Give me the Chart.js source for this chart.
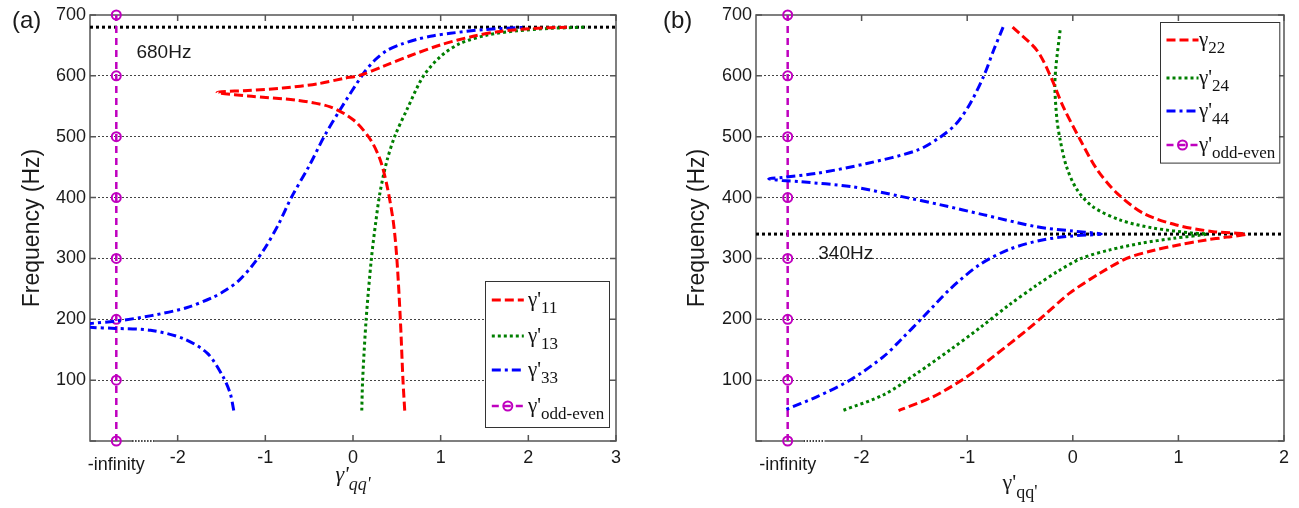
<!DOCTYPE html>
<html>
<head>
<meta charset="utf-8">
<script src="https://cdn.jsdelivr.net/npm/chart.js@4.4.0/dist/chart.umd.min.js"></script>
<style>
  html, body { margin: 0; padding: 0; background: #fff; }
  #wrap { position: relative; width: 1299px; height: 508px; }
  .panel { position: absolute; top: 0; height: 508px; }
  #boxA { left: 0; width: 640px; }
  #boxB { left: 650px; width: 649px; }
</style>
</head>
<body>
<div id="wrap">
  <div class="panel" id="boxA"><canvas id="chartA" width="640" height="508"></canvas></div>
  <div class="panel" id="boxB"><canvas id="chartB" width="649" height="508"></canvas></div>
</div>
<script>
// x position used for gamma' = -infinity
const infPos = -2.7;
const freqSteps = [0, 100, 200, 300, 400, 500, 600, 700];
const xTicksA = [-2, -1, 0, 1, 2, 3];
const xTicksB = [-2, -1, 0, 1, 2];
const refFreqA = 680;
const refFreqB = 340;

// panel (a): gamma'11 (lower branch from 50 Hz up to the tip, then upper branch)
const g11X = [0.59, 0.57, 0.54, 0.50, 0.46, 0.39, 0.31, 0.20, 0.01, -0.26, -0.64, -1.20, -1.55,
              -1.20, -0.80, -0.40, -0.10, 0.08, 0.35, 0.65, 1.00, 1.37, 1.68, 2.06, 2.44];
const g11Y = [50, 100, 200, 300, 360, 418, 462, 495, 527, 549, 560, 567, 573,
              576, 580, 587, 596, 601, 616, 633, 651, 665, 673, 678, 680];
// panel (a): gamma'13
const g13X = [0.10, 0.11, 0.15, 0.21, 0.26, 0.31, 0.39, 0.48, 0.62, 0.80, 1.00, 1.22, 1.53, 1.87, 2.25, 2.67];
const g13Y = [50, 100, 200, 300, 360, 410, 462, 502, 546, 599, 632, 653, 667, 674, 678, 680];
// panel (a): gamma'33 (lower branch out to -3, back along the upper branch)
const g33X = [-1.36, -1.40, -1.48, -1.66, -1.93, -2.31, -2.71, -3.00, -3.10,
              -3.00, -2.70, -2.30, -1.90, -1.60, -1.45, -1.30, -1.15, -1.00, -0.85, -0.70, -0.50, -0.33, -0.14,
              0.12, 0.25, 0.39, 0.55, 0.73, 0.92, 1.11, 1.49, 1.98];
const g33Y = [50, 78, 105, 144, 168, 182, 185, 187, 190,
              193, 197, 206, 219, 236, 248, 264, 288, 318, 356, 401, 452, 500, 546,
              604, 626, 642, 652, 660, 666, 670, 676, 680];

// panel (b): gamma22
const g22X = [-0.57, -0.34, -0.21, -0.09, 0.07, 0.23, 0.42, 0.67, 0.98, 1.33, 1.64,
              1.46, 1.25, 1.00, 0.76, 0.51, 0.26, -0.03, -0.28, -0.43, -0.75, -1.00, -1.32, -1.65];
const g22Y = [680, 642, 599, 549, 495, 446, 407, 374, 355, 344, 340,
              335, 330, 322, 313, 300, 276, 243, 205, 183, 139, 106, 73, 50];
// panel (b): gamma'24
const g24X = [-0.12, -0.16, -0.17, -0.15, -0.12, -0.06, 0.04, 0.19, 0.45, 0.76, 1.14, 1.27,
              0.95, 0.65, 0.35, 0.08, -0.15, -0.35, -0.60, -0.88, -1.16, -1.47, -1.79, -2.18];
const g24Y = [675, 615, 582, 528, 495, 451, 413, 385, 363, 350, 341.5, 340,
              333, 325, 314, 300, 278, 255, 224, 186, 150, 112, 76, 50];
// panel (b): gamma'44
const g44X = [-0.66, -0.75, -0.84, -0.97, -1.10, -1.25, -1.47, -1.95, -2.42, -2.75, -2.88,
              -2.75, -2.58, -2.10, -1.63, -1.25, -0.85, -0.34, 0.00, 0.27,
              0.00, -0.30, -0.60, -0.88, -1.16, -1.41, -1.63, -1.79, -2.10, -2.42, -2.74];
const g44Y = [680, 642, 601, 555, 522, 500, 478, 456, 440, 433, 431,
              428, 426, 418, 402, 388, 372, 352, 345, 340,
              337, 330, 315, 290, 250, 205, 166, 139, 101, 73, 50];

const RED = '#ff0000', GREEN = '#007f00', BLUE = '#0000ff', MAGENTA = '#bf00bf';
const DASH = [9, 4], DOT = [3, 3], DASHDOT = [9, 4, 3, 4];
const SANS = '"Liberation Sans", Arial, sans-serif';
const SERIF = '"Liberation Serif", "Times New Roman", serif';

function pts(xs, ys) {
  return xs.map((x, i) => ({ x: x, y: ys[i] }));
}

function curve(xs, ys, color, dash) {
  return {
    data: pts(xs, ys),
    showLine: true,
    borderColor: color,
    borderWidth: 3,
    borderDash: dash,
    pointRadius: 0,
    tension: 0.3,
    fill: false
  };
}

function oddEven() {
  return {
    data: freqSteps.map(f => ({ x: infPos, y: f })),
    showLine: true,
    borderColor: MAGENTA,
    borderWidth: 2.5,
    borderDash: [7, 5],
    pointRadius: 4.5,
    pointBorderWidth: 2,
    pointBorderColor: MAGENTA,
    pointBackgroundColor: 'rgba(0,0,0,0)',
    tension: 0,
    clip: false
  };
}

function refLine(freq, xMax) {
  return {
    data: [{ x: -3, y: freq }, { x: xMax, y: freq }],
    showLine: true,
    borderColor: '#000',
    borderWidth: 3,
    borderDash: [3, 3],
    pointRadius: 0,
    tension: 0
  };
}

// gamma with a prime and a lowered subscript
function gammaText(ctx, x0, base, sym, sub, size, italic, drop) {
  const st = italic ? 'italic ' : '';
  ctx.textAlign = 'left';
  ctx.textBaseline = 'alphabetic';
  ctx.font = st + size + 'px ' + SERIF;
  ctx.fillText(sym, x0, base);
  const w = ctx.measureText(sym).width;
  ctx.font = st + Math.round(size * 0.8) + 'px ' + SERIF;
  ctx.fillText(sub, x0 + w, base + drop);
  return w + ctx.measureText(sub).width;
}

function gammaWidth(ctx, sym, sub, size, italic) {
  const st = italic ? 'italic ' : '';
  ctx.font = st + size + 'px ' + SERIF;
  const w = ctx.measureText(sym).width;
  ctx.font = st + Math.round(size * 0.8) + 'px ' + SERIF;
  return w + ctx.measureText(sub).width;
}

function drawLegend(chart, lg) {
  const { ctx, chartArea: a } = chart;
  const left = a.right - lg.right - lg.w;
  const top = lg.top != null ? a.top + lg.top : a.bottom - lg.bottom - lg.h;
  ctx.save();
  ctx.fillStyle = '#fff';
  ctx.fillRect(left, top, lg.w, lg.h);
  ctx.strokeStyle = '#333';
  ctx.lineWidth = 1;
  ctx.strokeRect(Math.round(left) + 0.5, Math.round(top) + 0.5, lg.w, lg.h);
  lg.items.forEach((it, i) => {
    const ds = chart.data.datasets[it.ds];
    const yy = top + lg.rows[i];
    const x0 = left + 6.5, x1 = left + 38.5;
    ctx.save();
    ctx.strokeStyle = ds.borderColor;
    ctx.lineWidth = ds.borderWidth;
    ctx.setLineDash(ds.borderDash);
    ctx.beginPath();
    ctx.moveTo(x0, yy);
    ctx.lineTo(x1, yy);
    ctx.stroke();
    if (ds.pointRadius) {
      ctx.setLineDash([]);
      ctx.lineWidth = ds.pointBorderWidth;
      ctx.beginPath();
      ctx.arc((x0 + x1) / 2, yy, ds.pointRadius, 0, Math.PI * 2);
      ctx.stroke();
    }
    ctx.restore();
    ctx.fillStyle = '#111';
    gammaText(ctx, left + lg.textX, yy + 5.5, it.sym, it.sub, 21, false, 7.5);
  });
  ctx.restore();
}

const panelDecor = {
  id: 'panelDecor',
  beforeDatasetsDraw(chart, args, o) {
    const { ctx, chartArea: a, scales: { x, y } } = chart;
    ctx.save();
    // axes box with inward ticks on every side
    ctx.strokeStyle = '#555';
    ctx.lineWidth = 1.5;
    ctx.strokeRect(a.left, a.top, a.right - a.left, a.bottom - a.top);
    ctx.beginPath();
    x.ticks.forEach(t => {
      const px = x.getPixelForValue(t.value);
      ctx.moveTo(px, a.bottom); ctx.lineTo(px, a.bottom - 6);
      ctx.moveTo(px, a.top); ctx.lineTo(px, a.top + 6);
    });
    y.ticks.forEach(t => {
      const py = y.getPixelForValue(t.value);
      ctx.moveTo(a.left, py); ctx.lineTo(a.left + 6, py);
      ctx.moveTo(a.right, py); ctx.lineTo(a.right - 6, py);
    });
    ctx.stroke();
    // broken x axis between -infinity and the finite range
    const g0 = x.getPixelForValue(o.gap[0]), g1 = x.getPixelForValue(o.gap[1]);
    ctx.strokeStyle = '#fff';
    ctx.lineWidth = 4;
    ctx.beginPath(); ctx.moveTo(g0, a.bottom); ctx.lineTo(g1, a.bottom); ctx.stroke();
    ctx.strokeStyle = '#000';
    ctx.lineWidth = 1.5;
    ctx.setLineDash([1.5, 1.5]);
    ctx.beginPath(); ctx.moveTo(g0, a.bottom); ctx.lineTo(g1, a.bottom); ctx.stroke();
    ctx.restore();
  },
  afterDraw(chart, args, o) {
    const { ctx, chartArea: a, scales: { x, y } } = chart;
    ctx.save();
    ctx.fillStyle = '#1a1a1a';
    ctx.textBaseline = 'alphabetic';
    ctx.textAlign = 'left';
    ctx.font = '24px ' + SANS;
    ctx.fillText(o.tag, o.tagX, 28);

    ctx.font = '19px ' + SANS;
    ctx.fillText(o.refText, x.getPixelForValue(o.refAt[0]), y.getPixelForValue(o.refAt[1]));

    ctx.textAlign = 'center';
    ctx.font = '18px ' + SANS;
    ctx.fillText('-infinity', x.getPixelForValue(infPos), a.bottom + 29);

    ctx.save();
    ctx.translate(o.yTitleX, (a.top + a.bottom) / 2);
    ctx.rotate(-Math.PI / 2);
    ctx.textBaseline = 'middle';
    ctx.font = '23px ' + SANS;
    ctx.fillText('Frequency (Hz)', 0, 0);
    ctx.restore();

    const tw = gammaWidth(ctx, "\u03b3'", "qq'", 22, o.italicTitle);
    gammaText(ctx, (a.left + a.right) / 2 - tw / 2, o.xTitleBase, "\u03b3'", "qq'", 22, o.italicTitle, 9);

    drawLegend(chart, o.legend);
    ctx.restore();
  }
};

function makeScales(xMax, xTicks, yWidth) {
  return {
    x: {
      type: 'linear',
      min: -3,
      max: xMax,
      afterBuildTicks: s => { s.ticks = xTicks.map(v => ({ value: v })); },
      afterFit: s => { s.height = 67; },
      grid: { display: false, drawTicks: false },
      border: { display: false },
      ticks: { autoSkip: false, maxRotation: 0, padding: 6, color: '#1a1a1a', font: { family: SANS, size: 18 } }
    },
    y: {
      type: 'linear',
      min: 0,
      max: 700,
      afterFit: s => { s.width = yWidth; },
      grid: {
        drawTicks: false,
        lineWidth: 1,
        color: c => (c.tick && (c.tick.value === 0 || c.tick.value === 700)) ? 'rgba(0,0,0,0)' : '#444'
      },
      border: { display: false, dash: [2, 2] },
      ticks: {
        stepSize: 100,
        padding: 4,
        color: '#1a1a1a',
        font: { family: SANS, size: 18 },
        callback: v => (v === 0 ? '' : v)
      }
    }
  };
}

function makeChart(id, cfg) {
  return new Chart(document.getElementById(id), {
    type: 'scatter',
    data: { datasets: cfg.datasets },
    options: {
      responsive: false,
      animation: false,
      layout: { padding: { top: 15, right: cfg.rightPad, left: 0, bottom: 0 } },
      scales: makeScales(cfg.xMax, cfg.xTicks, cfg.yWidth),
      plugins: {
        legend: { display: false },
        tooltip: { enabled: false },
        panelDecor: cfg.decor
      }
    },
    plugins: [panelDecor]
  });
}

makeChart('chartA', {
  xMax: 3, xTicks: xTicksA, yWidth: 90, rightPad: 24,
  datasets: [
    curve(g11X, g11Y, RED, DASH),
    curve(g13X, g13Y, GREEN, DOT),
    curve(g33X, g33Y, BLUE, DASHDOT),
    oddEven(),
    refLine(refFreqA, 3)
  ],
  decor: {
    tag: '(a)', tagX: 12, gap: [-2.52, -2.27],
    refText: '680Hz', refAt: [-2.47, 628.6],
    yTitleX: 33, xTitleBase: 481, italicTitle: true,
    legend: {
      w: 124, h: 146, right: 6.7, bottom: 14.3, textX: 42.7,
      rows: [19.3, 55.3, 89.3, 125.3],
      items: [
        { ds: 0, sym: "\u03b3'", sub: '11' },
        { ds: 1, sym: "\u03b3'", sub: '13' },
        { ds: 2, sym: "\u03b3'", sub: '33' },
        { ds: 3, sym: "\u03b3'", sub: 'odd-even' }
      ]
    }
  }
});

makeChart('chartB', {
  xMax: 2, xTicks: xTicksB, yWidth: 106, rightPad: 15,
  datasets: [
    curve(g22X, g22Y, RED, DASH),
    curve(g24X, g24Y, GREEN, DOT),
    curve(g44X, g44Y, BLUE, DASHDOT),
    oddEven(),
    refLine(refFreqB, 2)
  ],
  decor: {
    tag: '(b)', tagX: 13, gap: [-2.55, -2.35],
    refText: '340Hz', refAt: [-2.41, 299],
    yTitleX: 48, xTitleBase: 489, italicTitle: false,
    legend: {
      w: 119.3, h: 140.6, right: 4.7, top: 6.7, textX: 39,
      rows: [18.3, 56.3, 89.3, 123.3],
      items: [
        { ds: 0, sym: '\u03b3', sub: '22' },
        { ds: 1, sym: "\u03b3'", sub: '24' },
        { ds: 2, sym: "\u03b3'", sub: '44' },
        { ds: 3, sym: "\u03b3'", sub: 'odd-even' }
      ]
    }
  }
});
</script>
</body>
</html>
